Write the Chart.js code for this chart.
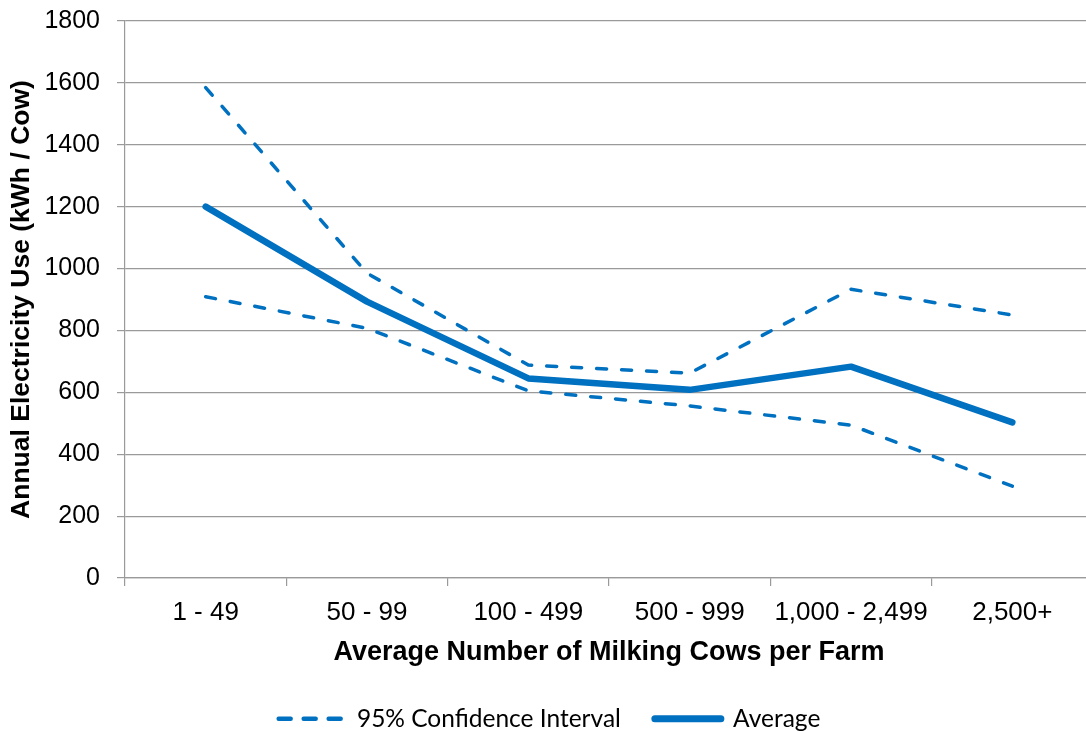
<!DOCTYPE html>
<html>
<head>
<meta charset="utf-8">
<script src="https://cdn.jsdelivr.net/npm/chart.js@4/dist/chart.umd.min.js"></script>
<style>
  html, body { margin: 0; padding: 0; background: #fff; overflow: hidden; }
  #wrap { position: relative; width: 1100px; height: 731px; }
</style>
</head>
<body>
<div id="wrap"><canvas id="chart"></canvas></div>
<script>
// Herd-size classes on the x axis
const categories = ['1 - 49', '50 - 99', '100 - 499', '500 - 999', '1,000 - 2,499', '2,500+'];

// Annual electricity use per cow (kWh / cow)
const averageUse = [1200, 893, 645, 608, 683, 503];
const upperCI    = [1585, 985, 688, 662, 933, 850];
const lowerCI    = [909, 807, 605, 556, 494, 297];

// Y axis ticks
const yMin = 0;
const yMax = 1800;
const yStep = 200;

const BLUE = '#0070C0';
const GRID = '#9a9a9a';

const ctx = document.getElementById('chart').getContext('2d');

new Chart(ctx, {
  type: 'line',
  data: {
    labels: categories,
    datasets: [
      {
        label: '95% Confidence Interval',
        data: upperCI,
        borderColor: BLUE,
        backgroundColor: BLUE,
        borderWidth: 3.5,
        borderDash: [10, 15],
        borderCapStyle: 'round',
        borderJoinStyle: 'round',
        pointRadius: 0,
        tension: 0,
        fill: false
      },
      {
        label: '95% Confidence Interval (lower)',
        data: lowerCI,
        borderColor: BLUE,
        backgroundColor: BLUE,
        borderWidth: 3.5,
        borderDash: [10, 15],
        borderCapStyle: 'round',
        borderJoinStyle: 'round',
        pointRadius: 0,
        tension: 0,
        fill: false
      },
      {
        label: 'Average',
        data: averageUse,
        borderColor: BLUE,
        backgroundColor: BLUE,
        borderWidth: 6.5,
        borderCapStyle: 'round',
        borderJoinStyle: 'round',
        pointRadius: 0,
        tension: 0,
        fill: false
      }
    ]
  },
  options: {
    responsive: true,
    maintainAspectRatio: false,
    animation: false,
    devicePixelRatio: 1,
    layout: { padding: { left: 6, right: 7, top: 21, bottom: -10 } },
    plugins: {
      tooltip: { enabled: false },
      legend: {
        position: 'bottom',
        align: 'center',
        labels: {
          usePointStyle: true,
          pointStyleWidth: 66,
          boxHeight: 8,
          padding: 34,
          color: '#000',
          font: { family: "Lato, 'Open Sans', sans-serif", size: 24.5 },
          filter: (item) => item.datasetIndex !== 1,
          generateLabels: (chart) => {
            return chart.data.datasets.map((ds, i) => ({
              text: ds.label,
              datasetIndex: i,
              fillStyle: BLUE,
              strokeStyle: BLUE,
              lineWidth: i === 2 ? 7 : 4.5,
              lineDash: i === 2 ? [] : [12, 13],
              lineCap: 'round',
              pointStyle: 'line',
              hidden: false,
              fontColor: '#000'
            }));
          }
        }
      }
    },
    scales: {
      x: {
        offset: true,
        grid: {
          display: true,
          offset: true,
          drawOnChartArea: false,
          drawTicks: true,
          tickLength: 8,
          color: GRID,
          lineWidth: 1.2
        },
        border: { display: true, color: GRID, width: 1.2 },
        ticks: {
          color: '#000',
          padding: 11,
          maxRotation: 0,
          autoSkip: false,
          font: { family: "'Liberation Sans', Arial, sans-serif", size: 26 }
        },
        title: {
          display: true,
          text: 'Average Number of Milking Cows per Farm',
          color: '#000',
          padding: { top: 4, bottom: 4 },
          font: { family: "'Liberation Sans', Arial, sans-serif", size: 27, weight: 'bold' }
        },
        afterFit: (scale) => { scale.height = 94.5; }
      },
      y: {
        min: yMin,
        max: yMax,
        grid: {
          color: GRID,
          lineWidth: 1.2,
          drawTicks: true,
          tickLength: 8
        },
        border: { display: true, color: GRID, width: 1.2 },
        ticks: {
          stepSize: yStep,
          color: '#000',
          padding: 17,
          font: { family: "'Liberation Sans', Arial, sans-serif", size: 25 },
          callback: (value) => String(value)
        },
        title: {
          display: true,
          text: 'Annual Electricity Use (kWh / Cow)',
          color: '#000',
          padding: { top: 0, bottom: 4 },
          font: { family: "'Liberation Sans', Arial, sans-serif", size: 26.5, weight: 'bold' }
        },
        afterFit: (scale) => {
          scale.width = 119;
          scale.paddingTop = 0;
          scale.paddingBottom = 0;
        }
      }
    }
  }
});
</script>
</body>
</html>
